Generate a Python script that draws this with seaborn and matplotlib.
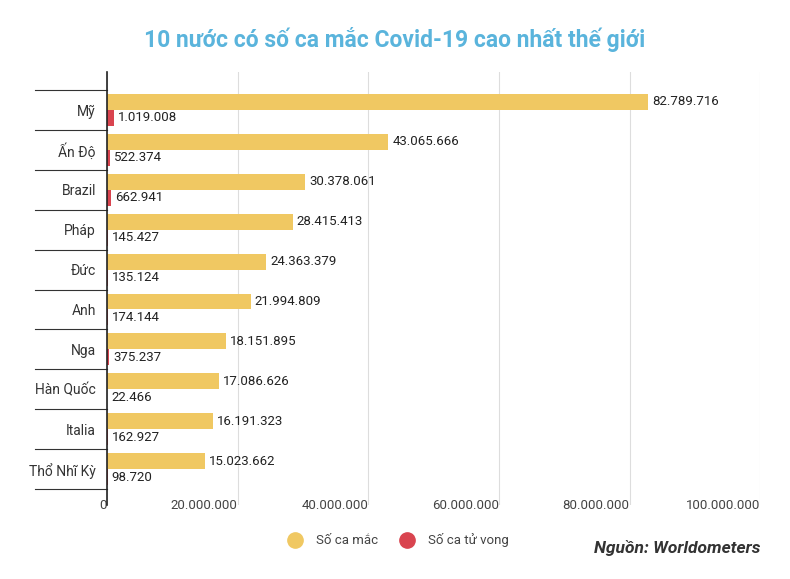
import matplotlib
matplotlib.use("Agg")
import matplotlib.pyplot as plt
import seaborn as sns
import pandas as pd
from matplotlib.lines import Line2D

countries = ["Mỹ", "Ấn Độ", "Brazil", "Pháp", "Đức", "Anh", "Nga", "Hàn Quốc", "Italia", "Thổ Nhĩ Kỳ"]
cases = [82789716, 43065666, 30378061, 28415413, 24363379, 21994809, 18151895, 17086626, 16191323, 15023662]
deaths = [1019008, 522374, 662941, 145427, 135124, 174144, 375237, 22466, 162927, 98720]
series = ["Số ca mắc", "Số ca tử vong"]
colors = ["#f0c862", "#d9444f"]
xticks = [0, 20000000, 40000000, 60000000, 80000000, 100000000]

df = pd.DataFrame({
    "country": countries * 2,
    "value": cases + deaths,
    "series": [series[0]] * len(countries) + [series[1]] * len(countries),
})

def fmt(v):
    return f"{v:,}".replace(",", ".")

plt.rcParams["font.family"] = "Roboto"
fig = plt.figure(figsize=(7.9, 5.79), dpi=100)
ax = fig.add_axes([0.1354, 0.1278, 0.827, 0.7478])
sns.barplot(data=df, y="country", x="value", hue="series", palette=colors,
            orient="h", width=0.8, ax=ax, legend=False, saturation=1)
ax.set_xlim(0, 100000000)
ax.set_ylim(9.9, -0.95)
for c in ax.containers:
    for bar in c:
        w = bar.get_width()
        ax.text(w + 600000, bar.get_y() + bar.get_height() / 2, fmt(int(round(w))),
                va="center", ha="left", fontsize=9.5, color="#222222")
ax.set_xticks(xticks)
ax.set_xticklabels([fmt(t) for t in xticks], ha="right", fontsize=9.5, color="#444444")
ax.tick_params(axis="x", length=0, pad=-4)
ax.tick_params(axis="y", length=0, pad=8, labelsize=10, labelcolor="#333333")
ax.grid(axis="x", color="#dddddd", linewidth=0.8)
ax.set_axisbelow(True)
for s in ["top", "right", "bottom"]:
    ax.spines[s].set_visible(False)
ax.spines["left"].set_color("#222222")
ax.spines["left"].set_linewidth(1.2)
ax.set_xlabel("")
ax.set_ylabel("")
for i in range(len(countries) + 1):
    ax.plot([-0.11, 0], [i - 0.5, i - 0.5], transform=ax.get_yaxis_transform(),
            color="#333333", linewidth=0.8, clip_on=False)
fig.text(0.5, 0.918, "10 nước có số ca mắc Covid-19 cao nhất thế giới", ha="center",
         fontsize=16.5, fontweight="bold", color="#5ab4dc")
handles = [Line2D([], [], marker="o", linestyle="", markersize=11, color=c) for c in colors]
fig.legend(handles, series, loc="center", bbox_to_anchor=(0.5, 0.067), ncol=2, frameon=False,
           fontsize=9.5, labelcolor="#444444", handletextpad=0.6, columnspacing=1.2)
fig.text(0.962, 0.045, "Nguồn: Worldometers", ha="right", fontsize=12.5,
         fontstyle="italic", fontweight="bold", color="#333333")
fig.savefig("out.png", dpi=100)
